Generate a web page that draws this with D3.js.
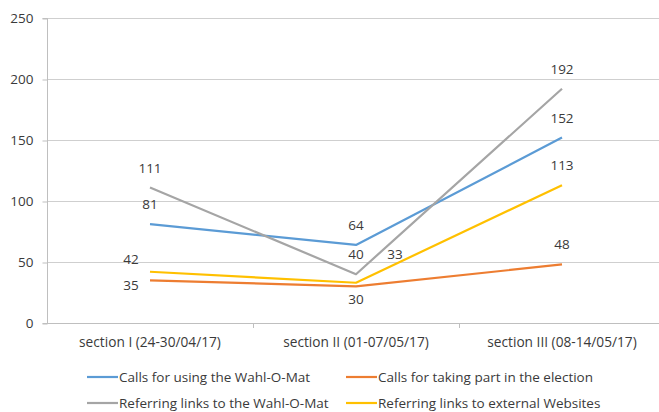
<!DOCTYPE html>
<html><head><meta charset="utf-8">
<script src="https://cdn.jsdelivr.net/npm/d3@7"></script>
<style>
html,body{margin:0;padding:0;background:#fff;}
svg text{font-family:"Open Sans",sans-serif;fill:#3a3a3a;}
</style></head>
<body><svg id="c" width="659" height="412"></svg>
<script>
const categories = ["section I (24-30/04/17)", "section II (01-07/05/17)", "section III (08-14/05/17)"];
const seriesNames = ["Calls for using the Wahl-O-Mat", "Calls for taking part in the election", "Referring links to the Wahl-O-Mat", "Referring links to external Websites"];
const callsWahlOMat = [81, 64, 152];
const callsElection = [35, 30, 48];
const linksWahlOMat = [111, 40, 192];
const linksExternal = [42, 33, 113];
const yTicks = [0, 50, 100, 150, 200, 250];
const colors = ["#5B9BD5", "#ED7D31", "#A5A5A5", "#FFC000"];
// label placement per series per point
const placements = [
  ["above", "above", "above"],
  ["leftBelow", "below", "above"],
  ["above", "above", "above"],
  ["left", "rightAbove", "above"]
];

(function () {
const series = [callsWahlOMat, callsElection, linksWahlOMat, linksExternal];
const svg = d3.select("#c");
const pl = 47, pr = 665, pt = 18, pb = 323;
const x = d3.scalePoint().domain(categories).range([pl, pr]).padding(0.5);
const y = d3.scaleLinear().domain([0, 250]).range([pb, pt]);

// gridlines
svg.append("g").selectAll("line").data(yTicks.filter(d => d > 0)).join("line")
  .attr("x1", pl).attr("x2", 659).attr("y1", d => y(d) + 0.5).attr("y2", d => y(d) + 0.5)
  .attr("stroke", "#CFCFCF").attr("stroke-width", 1);

// y axis
const ya = svg.append("g").attr("transform", `translate(${pl + 0.5},0)`)
  .call(d3.axisLeft(y).tickValues(yTicks).tickSize(5).tickPadding(9));
ya.select(".domain").attr("stroke", "#BFBFBF").attr("d", `M-5,${y(0)+0.5}H0V${y(250)+0.5}H-5`);
ya.selectAll(".tick line").attr("stroke", "#BFBFBF").attr("transform", "translate(0,0.5)");
ya.selectAll(".tick text").style("font-size", "13.5px").attr("fill", "#3a3a3a").style("font-family", "'Open Sans',sans-serif");

// x axis
svg.append("line").attr("x1", pl).attr("x2", 659).attr("y1", pb + 0.5).attr("y2", pb + 0.5).attr("stroke", "#BFBFBF");
const bw = x.step();
svg.append("g").selectAll("line").data([0, 1, 2]).join("line")
  .attr("x1", i => x(categories[i]) + bw / 2 + 0.5).attr("x2", i => x(categories[i]) + bw / 2 + 0.5)
  .attr("y1", pb).attr("y2", pb + 5).attr("stroke", "#BFBFBF");
svg.append("g").selectAll("text").data(categories).join("text")
  .attr("x", d => x(d)).attr("y", pb + 24).attr("text-anchor", "middle")
  .style("font-size", "13.7px").text(d => d);

// lines
const line = d3.line().x((d, i) => x(categories[i])).y(d => y(d));
series.forEach((s, k) => {
  svg.append("path").datum(s).attr("d", line).attr("fill", "none")
    .attr("stroke", colors[k]).attr("stroke-width", 2.2).attr("stroke-linejoin", "round");
});

// data labels
const offs = {above: [0, -20], below: [0, 13], left: [-19, -13], leftBelow: [-19, 5], rightAbove: [39, -29]};
series.forEach((s, k) => {
  s.forEach((v, i) => {
    const o = offs[placements[k][i]];
    svg.append("text").attr("x", x(categories[i]) + o[0]).attr("y", y(v) + o[1])
      .attr("text-anchor", "middle").attr("dominant-baseline", "central")
      .style("font-size", "13.5px").text(v);
  });
});

// legend
const legX = [87, 346], legY = [377, 403];
seriesNames.forEach((n, k) => {
  const lx = legX[k % 2], ly = legY[Math.floor(k / 2)];
  svg.append("line").attr("x1", lx).attr("x2", lx + 31).attr("y1", ly).attr("y2", ly)
    .attr("stroke", colors[k]).attr("stroke-width", 2.2);
  svg.append("text").attr("x", lx + 32).attr("y", ly).attr("dominant-baseline", "central")
    .style("font-size", "13.5px").text(n);
});
})();
</script></body></html>
